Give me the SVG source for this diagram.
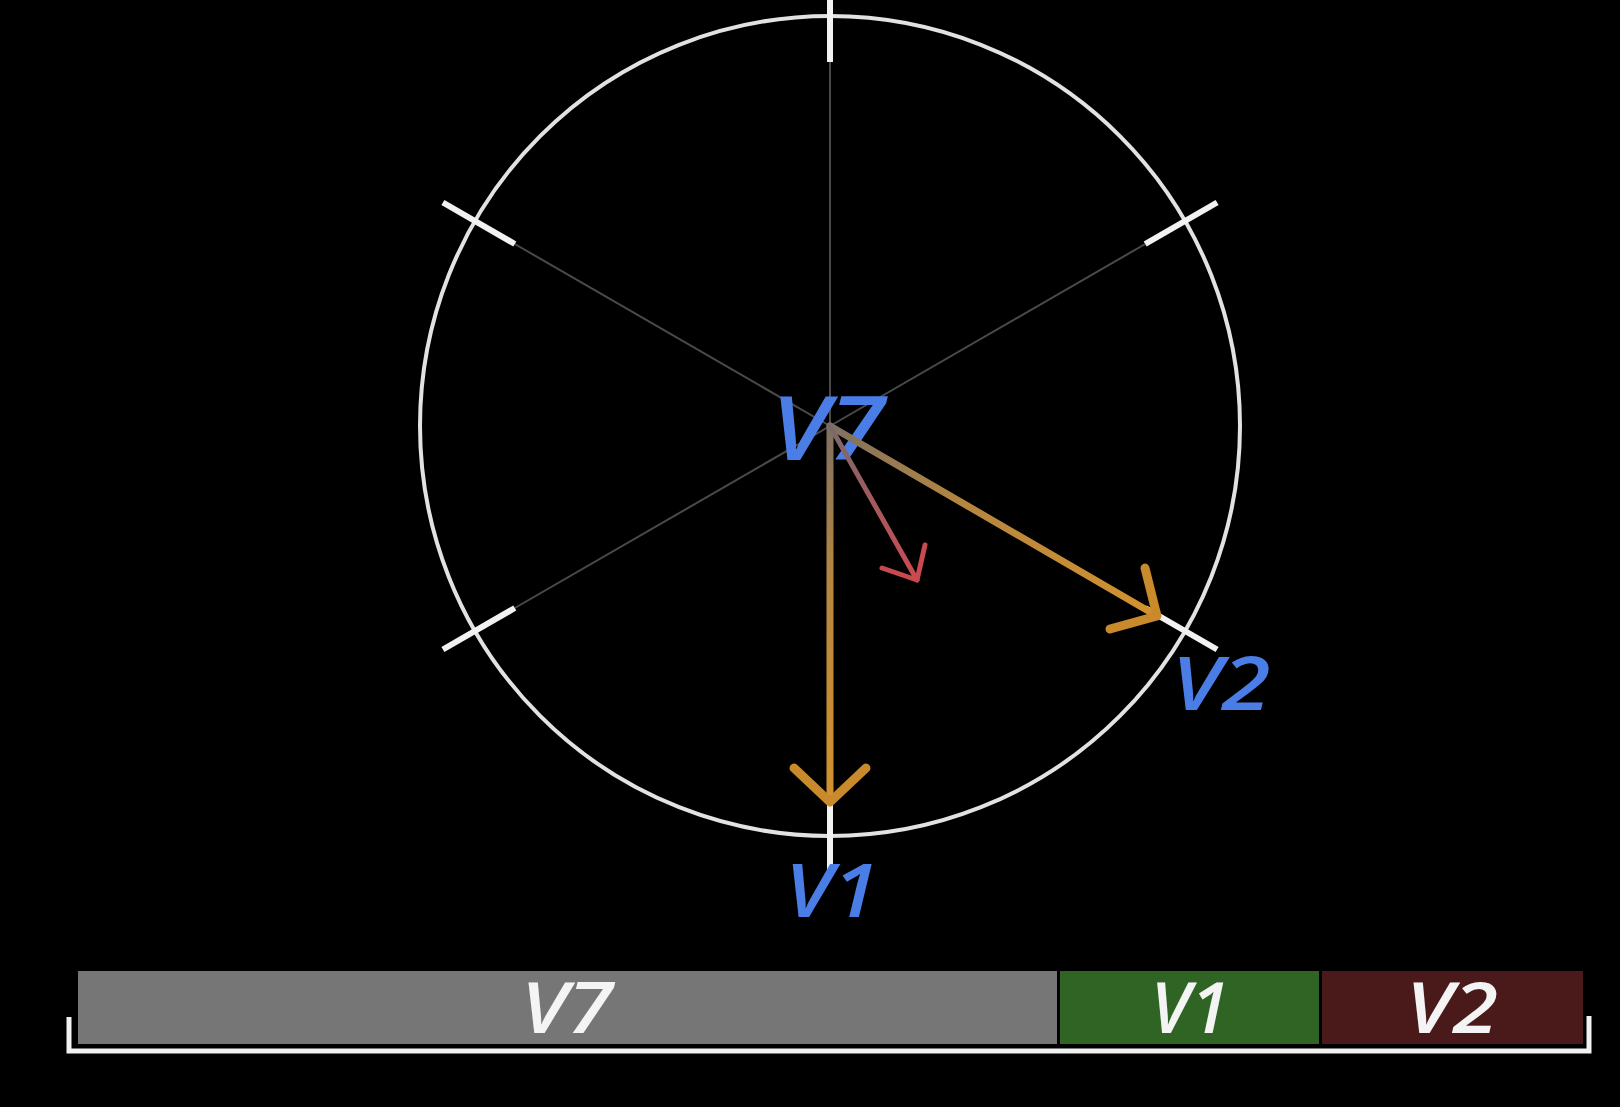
<svg xmlns="http://www.w3.org/2000/svg" width="1620" height="1107" viewBox="0 0 1620 1107">
<style>
.spoke{stroke:#4a4a4a;stroke-width:2;fill:none}
.tick{stroke:#f2f2f2;stroke-width:6;fill:none}
.lbl{font-family:"Open Sans","Liberation Sans",Arial,sans-serif;font-style:italic;font-weight:600;fill:#4a7ee6;text-anchor:middle}
.bartxt{font-family:"Open Sans","Liberation Sans",Arial,sans-serif;font-style:italic;font-weight:600;fill:#f4f4f4;text-anchor:middle;font-size:70px}
.arrow{fill:none;stroke-linecap:round;stroke-linejoin:round}
</style>
<defs>
<linearGradient id="gV1" gradientUnits="userSpaceOnUse" x1="830" y1="426" x2="830" y2="802">
<stop offset="0" stop-color="#7e7062"/><stop offset="0.4" stop-color="#b58640"/><stop offset="1" stop-color="#d4922e"/>
</linearGradient>
<linearGradient id="gV2" gradientUnits="userSpaceOnUse" x1="830" y1="426" x2="1157" y2="616">
<stop offset="0" stop-color="#7e7062"/><stop offset="0.4" stop-color="#b58640"/><stop offset="1" stop-color="#d4922e"/>
</linearGradient>
<linearGradient id="gR" gradientUnits="userSpaceOnUse" x1="830" y1="426" x2="917" y2="580">
<stop offset="0" stop-color="#7a6a6a"/><stop offset="1" stop-color="#cc4a52"/>
</linearGradient>
</defs>
<rect x="0" y="0" width="1620" height="1107" fill="#000"/>

<g id="wheel">
<circle cx="830" cy="426" r="410" fill="none" stroke="#e2e2e2" stroke-width="4"/>
<g id="spokes">
<line class="spoke" x1="830" y1="426" x2="830" y2="62" stroke="#5a5a5a"/>
<line class="spoke" x1="830" y1="426" x2="1145.2" y2="244"/>
<line class="spoke" x1="830" y1="426" x2="514.8" y2="244"/>
<line class="spoke" x1="830" y1="426" x2="514.8" y2="608"/>
<line class="spoke" x1="830" y1="426" x2="1145.2" y2="608"/>
<line class="spoke" x1="830" y1="426" x2="830" y2="790"/>
</g>
<g id="ticks">
<line class="tick" x1="830" y1="62" x2="830" y2="0"/>
<line class="tick" x1="1145.2" y1="244" x2="1217.1" y2="202.5"/>
<line class="tick" x1="514.8" y1="244" x2="442.9" y2="202.5"/>
<line class="tick" x1="514.8" y1="608" x2="442.9" y2="649.5"/>
<line class="tick" x1="1145.2" y1="608" x2="1217.1" y2="649.5"/>
<line class="tick" x1="830" y1="790" x2="830" y2="873"/>
</g>
</g>

<g id="node-V7"><text class="lbl" x="828" y="460" font-size="88" textLength="114" lengthAdjust="spacingAndGlyphs">V7</text></g>
<g id="node-V2"><text class="lbl" x="1221" y="710" font-size="74" textLength="99" lengthAdjust="spacingAndGlyphs">V2</text></g>
<g id="node-V1"><text class="lbl" x="832" y="917" font-size="74" textLength="94" lengthAdjust="spacingAndGlyphs">V1</text></g>

<g id="connectors">
<g id="arrow-V1">
<path class="arrow" d="M830 426 L830 802" stroke="url(#gV1)" stroke-width="7"/>
<path class="arrow" d="M794 768 L830 802 L866 768" stroke="#c98a2c" stroke-width="9"/>
</g>
<g id="arrow-V2">
<path class="arrow" d="M830 426 L1157 616" stroke="url(#gV2)" stroke-width="7"/>
<path class="arrow" d="M1145 568 L1157 616 L1110 629" stroke="#c98a2c" stroke-width="9"/>
</g>
<g id="arrow-red">
<path class="arrow" d="M830 426 L917 580" stroke="url(#gR)" stroke-width="5"/>
<path class="arrow" d="M882 568 L917 580 L925 545" stroke="#c84a50" stroke-width="5"/>
</g>
</g>

<g id="bar">
<g id="bar-V7">
<rect x="78" y="971" width="979" height="73" fill="#767676"/>
<text class="bartxt" x="567" y="1033" textLength="92" lengthAdjust="spacingAndGlyphs">V7</text>
</g>
<g id="bar-V1">
<rect x="1060" y="971" width="259" height="73" fill="#2f6424"/>
<text class="bartxt" x="1190" y="1033">V1</text>
</g>
<g id="bar-V2">
<rect x="1322" y="971" width="261" height="73" fill="#4a1a1a"/>
<text class="bartxt" x="1452" y="1033" textLength="92" lengthAdjust="spacingAndGlyphs">V2</text>
</g>
<path id="bracket" d="M69 1017 L69 1051 L1589 1051 L1589 1016" fill="none" stroke="#f2f2f2" stroke-width="5"/>
</g>
</svg>
